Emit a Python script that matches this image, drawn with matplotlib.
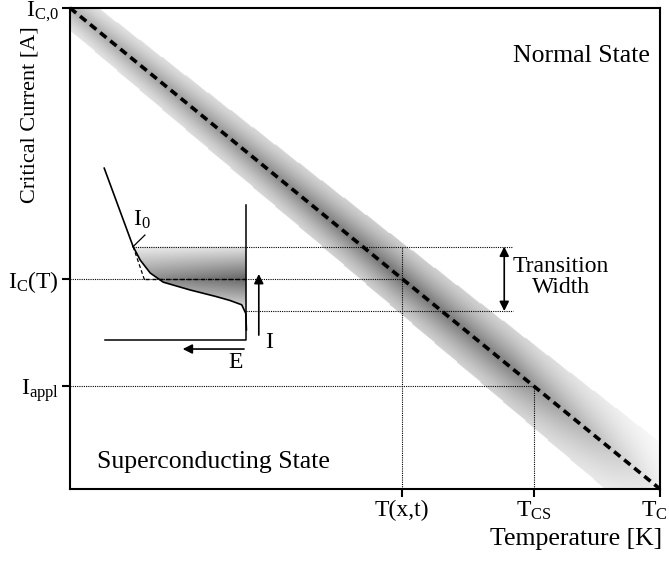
import numpy as np
import matplotlib.pyplot as plt
import matplotlib.transforms as mtransforms
from matplotlib.path import Path
from matplotlib.patches import PathPatch

plt.rcParams['font.family'] = 'Liberation Serif'
plt.rcParams['mathtext.fontset'] = 'custom'
plt.rcParams['mathtext.rm'] = 'Liberation Serif'
plt.rcParams['mathtext.it'] = 'Liberation Serif:italic'

# valeurs du schema (unites normalisees)
Tc = 1.0
Ic0 = 1.0
T_xt = 0.563          # T(x,t)
T_cs = 0.786          # T_CS
dIc = 0.067           # demi largeur de transition

# bande grise autour de Ic(T)
band_w_T = [0.0, 1.0]
band_w = [0.046, 0.098]
band_T = [0.0, 0.25, 0.55, 0.75, 0.9, 1.0]
band_shade = [0.45, 0.6, 0.8, 0.7, 0.35, 0.1]

# encart : courbe I-E
curve_T = [0.107, 0.119, 0.136, 0.158, 0.203, 0.248, 0.271, 0.291, 0.298, 0.299]
curve_I = [0.504, 0.476, 0.449, 0.430, 0.414, 0.400, 0.392, 0.383, 0.365, 0.331]
slope_T = [0.058, 0.107]
slope_I = [0.667, 0.504]
ext_T = [0.107, 0.127]
ext_I = [0.504, 0.432]
inset_x0, inset_x1 = 0.059, 0.299     # axe E
inset_y0, inset_y1 = 0.310, 0.590     # axe I


def Ic(T):
    return Ic0 * (1 - T / Tc)


Ic_T = Ic(T_xt)
I_appl = Ic(T_cs)

fig = plt.figure(figsize=(6.69, 5.61), dpi=100)
ax = fig.add_axes([70/669, 72/561, 590/669, 481/561])
ax.set_xlim(0, Tc)
ax.set_ylim(0, Ic0)

# bande grise
n = 500
TT, II = np.meshgrid(np.linspace(0, Tc, n), np.linspace(0, Ic0, n))
v = II - Ic(TT)
w = np.interp(TT, band_w_T, band_w)
a = 1 - np.abs(v) / w
alpha = np.where(a > 0, 0.25 + 0.45 * np.clip(a, 0, 1) ** 1.3, 0) * np.interp(TT, band_T, band_shade)
img = np.zeros((n, n, 4))
img[..., 3] = alpha
ax.imshow(img, extent=[0, Tc, 0, Ic0], origin='lower', aspect='auto', zorder=1, interpolation='bilinear')

# Ic(T) en pointilles gras
Tl = np.array([0, Tc])
ax.plot(Tl, Ic(Tl), color='k', lw=2.6, ls=(0, (2.2, 1.4)), zorder=4, clip_on=False)

# lignes pointillees
dot = dict(color='k', lw=0.8, ls=(0, (1, 1)), zorder=3)
ax.plot([0, T_xt], [Ic_T, Ic_T], **dot)
ax.plot([0, T_cs], [I_appl, I_appl], **dot)
ax.plot([T_xt, T_xt], [0, Ic_T + dIc], **dot)
ax.plot([T_cs, T_cs], [0, I_appl], **dot)
ax.plot([slope_T[1], 0.751], [Ic_T + dIc, Ic_T + dIc], **dot)
ax.plot([inset_x1, 0.751], [Ic_T - dIc, Ic_T - dIc], **dot)

# largeur de transition
ax.annotate('', xy=(0.736, Ic_T + dIc), xytext=(0.736, Ic_T - dIc),
            arrowprops=dict(arrowstyle='<|-|>', color='k', lw=1.2, shrinkA=0, shrinkB=0,
                            mutation_scale=14))
ax.text(0.832, Ic_T + 0.003, 'Transition\nWidth', ha='center', va='center', fontsize=17,
        linespacing=1.0)

# encart : zone grisee
verts = list(zip(curve_T, curve_I)) + [(inset_x1, curve_I[0])]
clip = PathPatch(Path(verts + [verts[0]]), facecolor='none', edgecolor='none', transform=ax.transData)
ax.add_patch(clip)
m = 200
gy = np.linspace(Ic_T - dIc - 0.01, Ic_T + dIc, m)
gx = np.linspace(curve_T[0], inset_x1, m)
GX, GY = np.meshgrid(gx, gy)
d = np.abs(GY - Ic_T) / dIc
ga = np.clip(0.6 - 0.5 * d, 0.05, 1) * (0.7 + 0.3 * (GX - gx[0]) / (gx[-1] - gx[0]))
gimg = np.zeros((m, m, 4))
gimg[..., 3] = ga
im2 = ax.imshow(gimg, extent=[gx[0], gx[-1], gy[0], gy[-1]], origin='lower', aspect='auto',
                zorder=2, interpolation='bilinear')
im2.set_clip_path(clip)

ax.plot(curve_T, curve_I, color='k', lw=1.2, zorder=5)
ax.plot(slope_T, slope_I, color='k', lw=1.2, zorder=5)
ax.plot(ext_T, ext_I, color='k', lw=0.9, ls=(0, (3, 2)), zorder=5)
ax.plot([ext_T[1], inset_x1], [Ic_T, Ic_T], color='k', lw=1.0, ls=(0, (3, 2)), zorder=5)
ax.plot([inset_x0, inset_x1, inset_x1], [inset_y0, inset_y0, inset_y1], color='k', lw=1.1, zorder=5)
ax.plot([slope_T[1], 0.127], [Ic_T + dIc, 0.528], color='k', lw=0.9, zorder=5)
ax.text(0.106, 0.56, r'$\mathregular{I_0}$', fontsize=17, ha='left', va='center')

ax.annotate('', xy=(0.320, 0.447), xytext=(0.320, 0.320),
            arrowprops=dict(arrowstyle='-|>', color='k', lw=1.2, shrinkA=0, shrinkB=0,
                            mutation_scale=14))
ax.annotate('', xy=(0.191, 0.291), xytext=(0.295, 0.291),
            arrowprops=dict(arrowstyle='-|>', color='k', lw=1.2, shrinkA=0, shrinkB=0,
                            mutation_scale=14))
ax.text(0.337, 0.305, 'I', fontsize=17, ha='center', va='center')
ax.text(0.281, 0.264, 'E', fontsize=17, ha='center', va='center')

# textes d'etat
ax.text(0.751, 0.9, 'Normal State', fontsize=18.5, ha='left', va='center')
ax.text(0.046, 0.056, 'Superconducting State', fontsize=18.5, ha='left', va='center')

# axes
for s in ax.spines.values():
    s.set_linewidth(1.5)
ax.set_xticks([T_xt, T_cs, Tc], labels=['T(x,t)', r'$\mathregular{T_{CS}}$', r'$\mathregular{T_C}$'])
ax.set_yticks([I_appl, Ic_T, Ic0], labels=[r'$\mathregular{I_{appl}}$', r'$\mathregular{I_C(T)}$',
                                          r'$\mathregular{I_{C{,}0}}$'])
ax.tick_params(length=6, width=1.5, labelsize=17, pad=2)
# T_C un peu a gauche pour rester dans l'image
lab = ax.get_xticklabels()[2]
lab.set_transform(lab.get_transform() + mtransforms.ScaledTranslation(-4/72, 0, fig.dpi_scale_trans))
ax.set_xlabel('Temperature [K]', fontsize=18.5, loc='right')
ax.xaxis.set_label_coords(1.003, -0.082)
ax.set_ylabel('Critical Current [A]', fontsize=16, loc='top')
ax.yaxis.set_label_coords(-0.052, 0.962)

fig.savefig('out.png', dpi=100)
